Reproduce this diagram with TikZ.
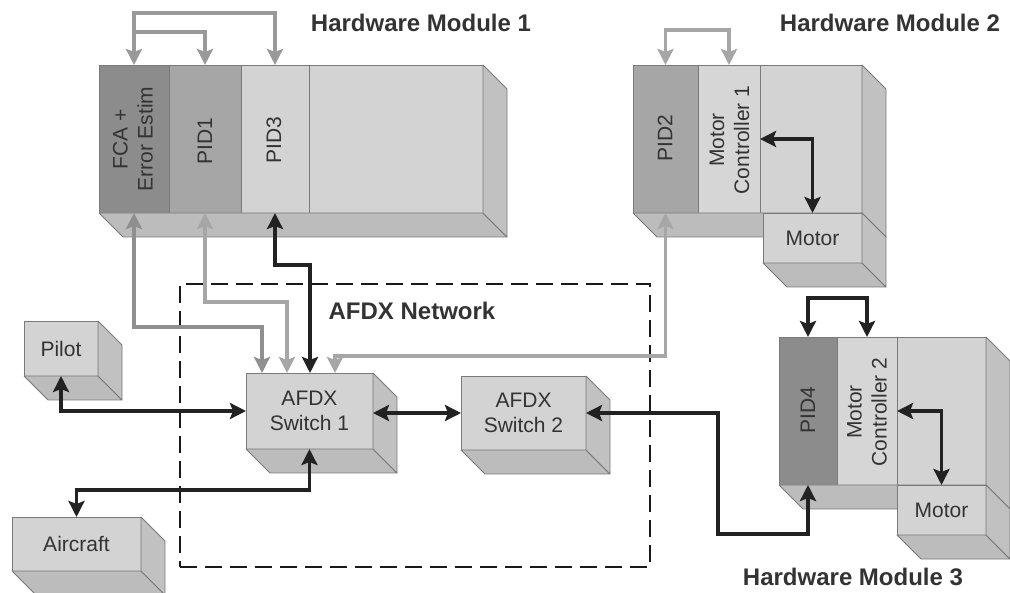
\documentclass[tikz,border=0pt]{standalone}
\usepackage{fontspec}
\setmainfont{Liberation Sans}
\usetikzlibrary{calc,arrows.meta}
\definecolor{edgec}{HTML}{7A7A7A}
\definecolor{facec}{HTML}{D3D3D3}
\definecolor{botc}{HTML}{BCBCBC}
\definecolor{sidec}{HTML}{C1C1C1}
\definecolor{darkc}{HTML}{8C8C8C}
\definecolor{midc}{HTML}{A6A6A6}
\definecolor{mcc}{HTML}{D6D6D6}
\definecolor{textc}{HTML}{333333}
\definecolor{kc}{HTML}{222222}
\definecolor{gA}{HTML}{8F8F8F}
\definecolor{gB}{HTML}{A6A6A6}
\definecolor{gC}{HTML}{999999}
\newcommand\depthfaces[2]{%
  \path[draw=edgec, line width=0.8pt, fill=botc, line join=round]
    (#1.south west) -- (#2.south east) -- ++(24,24) -- ($(#1.south west)+(24,24)$) -- cycle;
  \path[draw=edgec, line width=0.8pt, fill=sidec, line join=round]
    (#2.north east) -- ++(24,24) -- ($(#2.south east)+(24,24)$) -- (#2.south east) -- cycle;
}
\begin{document}
\begin{tikzpicture}[x=1pt,y=-1pt,
  >={Stealth[length=16pt,width=16pt,inset=3pt]},
  face/.style={draw=edgec, line width=0.8pt, fill=facec, inner sep=0pt, outer sep=0pt,
    text=textc, font=\fontsize{21}{25}\selectfont, align=center},
  lab/.style={inner sep=0pt, text=textc, font=\fontsize{21}{25}\selectfont, align=center},
  title/.style={inner sep=0pt, text=textc, font=\bfseries\fontsize{24}{28}\selectfont},
  conn/.style={line width=3.8pt},
  kline/.style={conn, draw=kc},
  gline1/.style={conn, draw=gA},
  gline2/.style={conn, draw=gB},
  gline3/.style={conn, draw=gC},
  netbox/.style={draw=black!90, line width=2.8pt, dash pattern=on 17pt off 8pt, inner sep=0pt}
]
\useasboundingbox (0,0) rectangle (1010,593);

% AFDX network frame
\node[netbox, minimum width=470, minimum height=283] (net) at (415,425.5) {};

% Hardware module 1
\node[face, fill=darkc, minimum width=70, minimum height=148] (fca) at (134,139) {};
\node[face, fill=midc, minimum width=72, minimum height=148] (pid1) at (205,139) {};
\node[face, minimum width=68, minimum height=148] (pid3) at (275,139) {};
\node[face, minimum width=174, minimum height=148] (hm1r) at (396,139) {};
\depthfaces{fca}{hm1r}
\node[lab, rotate=90] (fcal) at (133,139) {FCA +\\Error Estim};
\node[lab, rotate=90] (pid1l) at (205,141) {PID1};
\node[lab, rotate=90] (pid3l) at (274,140) {PID3};

% Hardware module 2
\node[face, fill=midc, minimum width=65, minimum height=148] (pid2) at (665.5,139) {};
\node[face, fill=mcc, minimum width=62, minimum height=148] (mc1) at (729,139) {};
\node[face, minimum width=102, minimum height=148] (hm2r) at (811,139) {};
\depthfaces{pid2}{hm2r}
\node[face, minimum width=99, minimum height=50] (motor1) at (812.5,238) {Motor};
\depthfaces{motor1}{motor1}
\node[lab, rotate=90] (pid2l) at (665,138) {PID2};
\node[lab, rotate=90] (mc1l) at (729.5,140) {Motor\\Controller 1};

% Hardware module 3
\node[face, fill=darkc, minimum width=58, minimum height=148] (pid4) at (808,411) {};
\node[face, fill=mcc, minimum width=60, minimum height=148] (mc2) at (867,411) {};
\node[face, minimum width=89, minimum height=148] (hm3r) at (941.5,411) {};
\depthfaces{pid4}{hm3r}
\node[face, minimum width=89, minimum height=50] (motor2) at (941.5,510) {Motor};
\depthfaces{motor2}{motor2}
\node[lab, rotate=90] (pid4l) at (808,410) {PID4};
\node[lab, rotate=90] (mc2l) at (867,412) {Motor\\Controller 2};

% Pilot, Aircraft, switches
\node[face, minimum width=74, minimum height=55] (pilot) at (61,348.5) {Pilot};
\depthfaces{pilot}{pilot}
\node[face, minimum width=129, minimum height=54] (aircraft) at (76.5,544) {Aircraft};
\depthfaces{aircraft}{aircraft}
\node[face, minimum width=127, minimum height=76] (sw1) at (309.5,411) {AFDX\\Switch 1};
\depthfaces{sw1}{sw1}
\node[face, minimum width=125, minimum height=74] (sw2) at (523.5,413) {AFDX\\Switch 2};
\depthfaces{sw2}{sw2}

% helper coordinates
\coordinate (l1) at ($(fca.north)+(0,-52)$);
\coordinate (l2) at ($(fca.north)+(0,-33)$);
\coordinate (s1a) at ($(sw1.north west)+(16,0)$);
\coordinate (s1b) at ($(sw1.north west)+(41,0)$);
\coordinate (s1c) at ($(sw1.north west)+(64,0)$);
\coordinate (s1d) at ($(sw1.north west)+(89,0)$);
\coordinate (j1) at (718,534);

% module 1 internal loop
\draw[gline3,<->] (fca.north) -- (l1) -| (pid3.north);
\draw[gline3,->] (l2) -| (pid1.north);
% module 2 internal loop
\draw[gline2,<->] (pid2.north) -- ++(0,-35) -| (mc1.north);
% module 3 internal loop
\draw[kline,<->] (pid4.north) -- ++(0,-39) -| (mc2.north);

% to switch 1
\draw[gline1,<->] (fca.south) -- ++(0,114) -| (s1a);
\draw[gline2,<->] (pid1.south) -- ++(0,89) -| (s1b);
\draw[kline,<->] (pid3.south) -- ++(0,52) -| (s1c);
\draw[gline2,<->] (pid2.south) -- ++(0,143) -| (s1d);

\draw[kline,<->] (pilot.south) |- (sw1.west);
\draw[kline,<->] (sw1.south) -- ++(0,41) -| (aircraft.north);
\draw[kline,<->] (sw1.east |- sw2.west) -- (sw2.west);
\draw[kline,<->] (sw2.east) -| (j1) -| (pid4.south);

% motor controllers to motors
\draw[kline,<->] (mc1.east) -| (motor1.north);
\draw[kline,<->] (mc2.east) -| (motor2.north);

% titles
\node[title] (t1) at (421,23) {Hardware Module 1};
\node[title] (t2) at (890,23) {Hardware Module 2};
\node[title] (t3) at (853,577) {Hardware Module 3};
\node[title] (t4) at (412,311) {AFDX Network};
\end{tikzpicture}
\end{document}
